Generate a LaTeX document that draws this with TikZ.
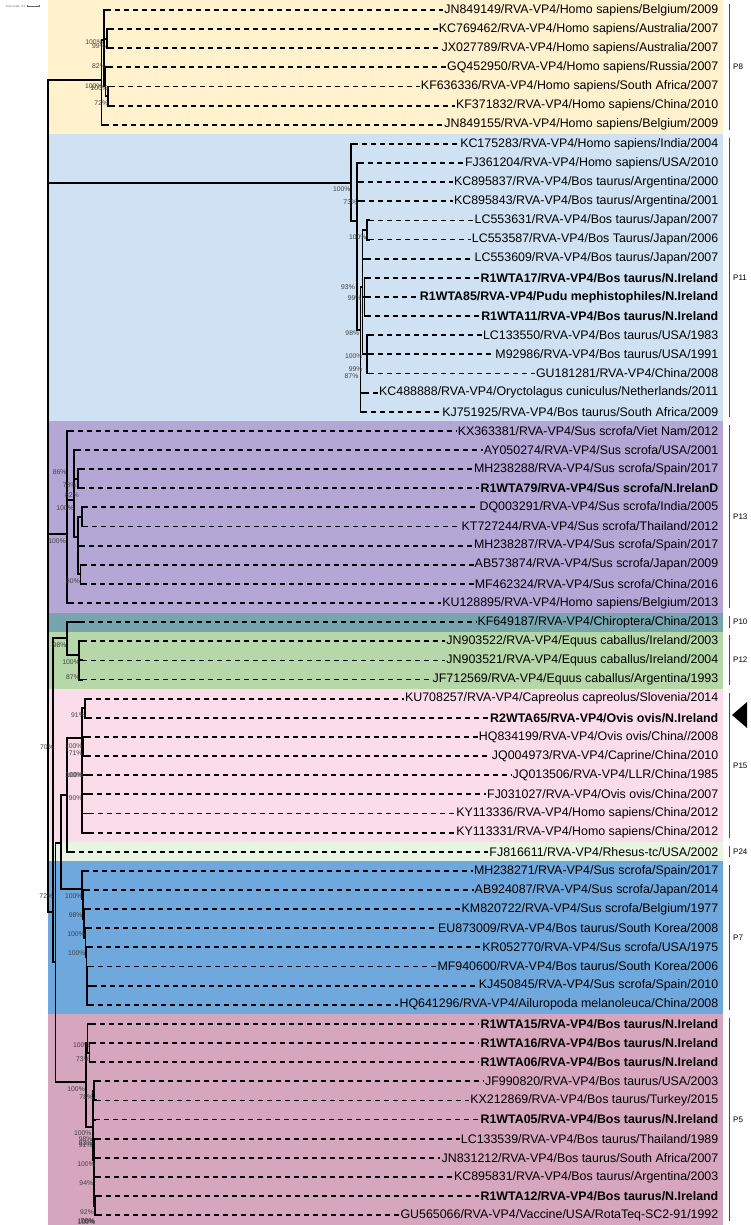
\documentclass[tikz,border=0pt]{standalone}
\usepackage{fontspec}
\setmainfont{Liberation Sans}
\usetikzlibrary{calc}
\definecolor{cPeight}{HTML}{FFF2CC}
\definecolor{cPeleven}{HTML}{CFE2F3}
\definecolor{cPthirteen}{HTML}{B4A7D6}
\definecolor{cPten}{HTML}{76A5AF}
\definecolor{cPtwelve}{HTML}{B6D7A8}
\definecolor{cPfifteen}{HTML}{FADDE9}
\definecolor{cPtwentyfour}{HTML}{E9F5E3}
\definecolor{cPseven}{HTML}{6FA8DC}
\definecolor{cPfive}{HTML}{D5A6BD}
\newcommand{\leafA}[6]{%
  \coordinate (t#1) at (#3,{10+19.13*#4});
  \node[#5] (l#1) at (719.5,{10+19.13*#4}) {#6};
  \draw[br] (#2) |- (t#1);
  \draw[dsh] (t#1) -- (l#1.west);
}
\newcommand{\edgeA}[2]{\draw[br] (#1) |- (#2);}
\newcommand{\bsl}[4]{\node[bs] (#1) at (#2,#3) {#4\%};}
\begin{document}
\begin{tikzpicture}[x=1pt,y=-1pt,
  br/.style={line width=1.9pt, line cap=rect, line join=miter},
  dsh/.style={line width=1.8pt, dash pattern=on 5pt off 4pt},
  lab/.style={anchor=east, inner sep=1pt, font=\fontsize{12.4}{14}\selectfont},
  labb/.style={anchor=east, inner sep=1pt, font=\fontsize{12.4}{14}\selectfont\bfseries},
  bs/.style={anchor=east, inner sep=0pt, font=\fontsize{6.8}{7}\selectfont, text=black!75},
  cl/.style={anchor=west, inner sep=0pt, font=\fontsize{8}{9}\selectfont},
  brk/.style={line width=0.8pt, black!70}]
\useasboundingbox (0,0) rectangle (750,1225);
% bands
\fill[cPeight] (48,0) rectangle (722.5,134.4);
\fill[cPeleven] (48,134.4) rectangle (722.5,421.3);
\fill[cPthirteen] (48,421.3) rectangle (722.5,612.6);
\fill[cPten] (48,612.6) rectangle (722.5,631.7);
\fill[cPtwelve] (48,631.7) rectangle (722.5,689.1);
\fill[cPfifteen] (48,689.1) rectangle (722.5,842.2);
\fill[cPtwentyfour] (48,842.2) rectangle (722.5,861.3);
\fill[cPseven] (48,861.3) rectangle (722.5,1014.3);
\fill[cPfive] (48,1014.3) rectangle (722.5,1225);
% tree scale
\node[anchor=west, inner sep=0pt, font=\fontsize{3}{3}\selectfont, text=black!60] (ts) at (5.5,6) {Tree scale: 0.1};
\coordinate (sa) at (27,6); \coordinate (sb) at (39,6);
\draw[black!60, line width=0.4pt] (sa) -- (sb);
\draw[black!60, line width=0.4pt] (sa) ++(0,-1.2) -- ++(0,2.4);
\draw[black!60, line width=0.4pt] (sb) ++(0,-1.2) -- ++(0,2.4);
% internal nodes
\coordinate (R) at (48.3,500);
\coordinate (P8r) at (101.5,80);
\coordinate (B) at (104,40);
\coordinate (D) at (107,38.7);
\coordinate (E) at (105.5,86);
\coordinate (F) at (108,96);
\coordinate (P11r) at (350.7,183);
\coordinate (Q) at (357,220.7);
\coordinate (Q2) at (360.5,330);
\coordinate (Q3) at (362.5,287);
\coordinate (L1) at (366.7,229.9);
\coordinate (L2) at (364.5,297);
\coordinate (L3) at (367,354);
\coordinate (P13r) at (66.7,534);
\coordinate (U) at (74,500);
\coordinate (V) at (78,478.7);
\coordinate (W) at (78,537);
\coordinate (X) at (81.7,517);
\coordinate (Y) at (80.5,574.3);
\coordinate (S) at (53.3,912);
\coordinate (PQ) at (66.7,638);
\coordinate (P12r) at (79.3,655);
\coordinate (S2) at (55.5,962);
\coordinate (T) at (60.7,843);
\coordinate (PR) at (66.7,795);
\coordinate (P15r) at (82,738);
\coordinate (Z) at (85,708.2);
\coordinate (H) at (83.5,746.5);
\coordinate (P7r) at (81.7,889);
\coordinate (a1) at (83,899.5);
\coordinate (a2) at (84.3,918.7);
\coordinate (a3) at (85.5,937.8);
\coordinate (a4) at (86.5,957);
\coordinate (a5) at (87.3,985.6);
\coordinate (P5r) at (86,1082);
\coordinate (C1) at (87.5,1043);
\coordinate (D1) at (89.5,1052.6);
\coordinate (C2) at (92.7,1127);
\coordinate (E1) at (94,1090.8);
\coordinate (E2) at (94,1160);
\coordinate (E3) at (95,1205.6);
% internal edges
\edgeA{R}{P8r} \edgeA{R}{P11r} \edgeA{R}{P13r} \edgeA{R}{S}
\edgeA{P8r}{B} \edgeA{B}{D} \edgeA{B}{E} \edgeA{E}{F}
\edgeA{P11r}{Q} \edgeA{Q}{Q2} \edgeA{Q2}{Q3} \edgeA{Q3}{L1} \edgeA{Q3}{L2} \edgeA{Q3}{L3}
\edgeA{P13r}{U} \edgeA{U}{V} \edgeA{U}{W} \edgeA{W}{X} \edgeA{W}{Y}
\edgeA{S}{PQ} \edgeA{PQ}{P12r} \edgeA{S}{S2} \edgeA{S2}{T} \edgeA{T}{PR} \edgeA{PR}{P15r}
\edgeA{P15r}{Z} \edgeA{P15r}{H}
\edgeA{T}{P7r} \edgeA{P7r}{a1} \edgeA{a1}{a2} \edgeA{a2}{a3} \edgeA{a3}{a4} \edgeA{a4}{a5}
\edgeA{S2}{P5r} \edgeA{P5r}{C1} \edgeA{C1}{D1} \edgeA{P5r}{C2} \edgeA{C2}{E1} \edgeA{C2}{E2} \edgeA{E2}{E3}
% leaves P8
\leafA{0}{B}{106}{0}{lab}{JN849149/RVA-VP4/Homo sapiens/Belgium/2009}
\leafA{1}{D}{109}{1}{lab}{KC769462/RVA-VP4/Homo sapiens/Australia/2007}
\leafA{2}{D}{109}{2}{lab}{JX027789/RVA-VP4/Homo sapiens/Australia/2007}
\leafA{3}{E}{108}{3}{lab}{GQ452950/RVA-VP4/Homo sapiens/Russia/2007}
\leafA{4}{F}{110}{4}{lab}{KF636336/RVA-VP4/Homo sapiens/South Africa/2007}
\leafA{5}{F}{110}{5}{lab}{KF371832/RVA-VP4/Homo sapiens/China/2010}
\leafA{6}{P8r}{104}{6}{lab}{JN849155/RVA-VP4/Homo sapiens/Belgium/2009}
% P11
\leafA{7}{P11r}{353}{7}{lab}{KC175283/RVA-VP4/Homo sapiens/India/2004}
\leafA{8}{Q}{359}{8}{lab}{FJ361204/RVA-VP4/Homo sapiens/USA/2010}
\leafA{9}{Q}{359}{9}{lab}{KC895837/RVA-VP4/Bos taurus/Argentina/2000}
\leafA{10}{Q}{360}{10}{lab}{KC895843/RVA-VP4/Bos taurus/Argentina/2001}
\leafA{11}{L1}{369}{11}{lab}{LC553631/RVA-VP4/Bos taurus/Japan/2007}
\leafA{12}{L1}{369}{12}{lab}{LC553587/RVA-VP4/Bos Taurus/Japan/2006}
\leafA{13}{Q3}{366}{13}{lab}{LC553609/RVA-VP4/Bos taurus/Japan/2007}
\leafA{14}{L2}{366}{14}{labb}{R1WTA17/RVA-VP4/Bos taurus/N.Ireland}
\leafA{15}{L2}{366}{15}{labb}{R1WTA85/RVA-VP4/Pudu mephistophiles/N.Ireland}
\leafA{16}{L2}{366}{16}{labb}{R1WTA11/RVA-VP4/Bos taurus/N.Ireland}
\leafA{17}{L3}{369}{17}{lab}{LC133550/RVA-VP4/Bos taurus/USA/1983}
\leafA{18}{L3}{369}{18}{lab}{M92986/RVA-VP4/Bos taurus/USA/1991}
\leafA{19}{L3}{369}{19}{lab}{GU181281/RVA-VP4/China/2008}
\leafA{20}{Q2}{364}{20}{lab}{KC488888/RVA-VP4/Oryctolagus cuniculus/Netherlands/2011}
\leafA{21}{Q2}{362}{21}{lab}{KJ751925/RVA-VP4/Bos taurus/South Africa/2009}
% P13
\leafA{22}{P13r}{69}{22}{lab}{KX363381/RVA-VP4/Sus scrofa/Viet Nam/2012}
\leafA{23}{U}{76}{23}{lab}{AY050274/RVA-VP4/Sus scrofa/USA/2001}
\leafA{24}{V}{80}{24}{lab}{MH238288/RVA-VP4/Sus scrofa/Spain/2017}
\leafA{25}{V}{80}{25}{labb}{R1WTA79/RVA-VP4/Sus scrofa/N.IrelanD}
\leafA{26}{X}{83}{26}{lab}{DQ003291/RVA-VP4/Sus scrofa/India/2005}
\leafA{27}{X}{83}{27}{lab}{KT727244/RVA-VP4/Sus scrofa/Thailand/2012}
\leafA{28}{W}{80}{28}{lab}{MH238287/RVA-VP4/Sus scrofa/Spain/2017}
\leafA{29}{Y}{82}{29}{lab}{AB573874/RVA-VP4/Sus scrofa/Japan/2009}
\leafA{30}{Y}{82}{30}{lab}{MF462324/RVA-VP4/Sus scrofa/China/2016}
\leafA{31}{P13r}{69}{31}{lab}{KU128895/RVA-VP4/Homo sapiens/Belgium/2013}
% P10, P12
\leafA{32}{PQ}{80}{32}{lab}{KF649187/RVA-VP4/Chiroptera/China/2013}
\leafA{33}{P12r}{82}{33}{lab}{JN903522/RVA-VP4/Equus caballus/Ireland/2003}
\leafA{34}{P12r}{82}{34}{lab}{JN903521/RVA-VP4/Equus caballus/Ireland/2004}
\leafA{35}{P12r}{82}{35}{lab}{JF712569/RVA-VP4/Equus caballus/Argentina/1993}
% P15
\leafA{36}{Z}{87}{36}{lab}{KU708257/RVA-VP4/Capreolus capreolus/Slovenia/2014}
\leafA{37}{Z}{87}{37}{labb}{R2WTA65/RVA-VP4/Ovis ovis/N.Ireland}
\leafA{38}{H}{86}{38}{lab}{HQ834199/RVA-VP4/Ovis ovis/China//2008}
\leafA{39}{H}{86}{39}{lab}{JQ004973/RVA-VP4/Caprine/China/2010}
\leafA{40}{P15r}{88}{40}{lab}{JQ013506/RVA-VP4/LLR/China/1985}
\leafA{41}{P15r}{88}{41}{lab}{FJ031027/RVA-VP4/Ovis ovis/China/2007}
\leafA{42}{P15r}{89}{42}{lab}{KY113336/RVA-VP4/Homo sapiens/China/2012}
\leafA{43}{P15r}{89}{43}{lab}{KY113331/RVA-VP4/Homo sapiens/China/2012}
% P24
\leafA{44}{PR}{70}{44}{lab}{FJ816611/RVA-VP4/Rhesus-tc/USA/2002}
% P7
\leafA{45}{P7r}{84}{45}{lab}{MH238271/RVA-VP4/Sus scrofa/Spain/2017}
\leafA{46}{a1}{85}{46}{lab}{AB924087/RVA-VP4/Sus scrofa/Japan/2014}
\leafA{47}{a2}{86}{47}{lab}{KM820722/RVA-VP4/Sus scrofa/Belgium/1977}
\leafA{48}{a3}{87}{48}{lab}{EU873009/RVA-VP4/Bos taurus/South Korea/2008}
\leafA{49}{a4}{88}{49}{lab}{KR052770/RVA-VP4/Sus scrofa/USA/1975}
\leafA{50}{a5}{89}{50}{lab}{MF940600/RVA-VP4/Bos taurus/South Korea/2006}
\leafA{51}{a5}{92}{51}{lab}{KJ450845/RVA-VP4/Sus scrofa/Spain/2010}
\leafA{52}{a5}{89}{52}{lab}{HQ641296/RVA-VP4/Ailuropoda melanoleuca/China/2008}
% P5
\leafA{53}{C1}{91}{53}{labb}{R1WTA15/RVA-VP4/Bos taurus/N.Ireland}
\leafA{54}{D1}{91}{54}{labb}{R1WTA16/RVA-VP4/Bos taurus/N.Ireland}
\leafA{55}{D1}{91}{55}{labb}{R1WTA06/RVA-VP4/Bos taurus/N.Ireland}
\leafA{56}{E1}{96}{56}{lab}{JF990820/RVA-VP4/Bos taurus/USA/2003}
\leafA{57}{E1}{96}{57}{lab}{KX212869/RVA-VP4/Bos taurus/Turkey/2015}
\leafA{58}{C2}{95}{58}{labb}{R1WTA05/RVA-VP4/Bos taurus/N.Ireland}
\leafA{59}{E2}{96}{59}{lab}{LC133539/RVA-VP4/Bos taurus/Thailand/1989}
\leafA{60}{E2}{96}{60}{lab}{JN831212/RVA-VP4/Bos taurus/South Africa/2007}
\leafA{61}{E2}{96}{61}{lab}{KC895831/RVA-VP4/Bos taurus/Argentina/2003}
\leafA{62}{E3}{97}{62}{labb}{R1WTA12/RVA-VP4/Bos taurus/N.Ireland}
\leafA{63}{E3}{97}{63}{lab}{GU565066/RVA-VP4/Vaccine/USA/RotaTeq-SC2-91/1992}
% bootstrap values
\bsl{b1}{103}{41.7}{100} \bsl{b2}{106}{45.7}{99} \bsl{b3}{106}{66}{82}
\bsl{b4}{102.7}{86}{100} \bsl{b5}{108.3}{88.3}{100} \bsl{b6}{108.3}{102.7}{72}
\bsl{b7}{350.7}{189.3}{100} \bsl{b8}{357.3}{201.7}{73} \bsl{b9}{366.7}{237.3}{100}
\bsl{b10}{355}{286.7}{93} \bsl{b11}{361.7}{297.7}{99} \bsl{b12}{359.3}{332.7}{98}
\bsl{b13}{362.7}{355.7}{100} \bsl{b14}{362.7}{369.3}{99} \bsl{b15}{358.5}{376}{87}
\bsl{b16}{66.7}{472.3}{86} \bsl{b17}{76.7}{485}{78} \bsl{b18}{79}{495}{82}
\bsl{b19}{74}{507.7}{100} \bsl{b20}{66}{541}{100} \bsl{b21}{80}{580.7}{80}
\bsl{b22}{66.7}{645}{98} \bsl{b23}{80}{661.7}{100} \bsl{b24}{80}{676.7}{87}
\bsl{b25}{85}{715}{91} \bsl{b26}{82.7}{745.7}{100} \bsl{b27}{82.7}{752.7}{71}
\bsl{b28}{82.7}{775}{100} \bsl{b29}{83.7}{775.5}{100} \bsl{b30}{54}{746.7}{70}
\bsl{b31}{82.7}{798.3}{90}
\bsl{b32}{53.3}{896}{72} \bsl{b33}{82.7}{896}{100} \bsl{b34}{82.7}{915}{98}
\bsl{b35}{85}{934}{100} \bsl{b36}{85.7}{952.7}{100}
\bsl{b37}{90.7}{1045}{100} \bsl{b38}{90}{1059}{73} \bsl{b39}{85}{1089.3}{100}
\bsl{b40}{93.3}{1096.7}{78} \bsl{b41}{91.7}{1132.7}{100} \bsl{b42}{92.7}{1139.3}{98}
\bsl{b43}{92.7}{1143.3}{93} \bsl{b44}{92.7}{1145}{91} \bsl{b45}{95}{1164.3}{100}
\bsl{b46}{93.3}{1183.3}{94} \bsl{b47}{94}{1211.7}{92} \bsl{b48}{95}{1221.5}{100}
\bsl{b49}{95.5}{1221.8}{100} \bsl{b50}{94.5}{1221.2}{76}
% clade brackets and labels
\foreach \nm/\ya/\yb in {P8/4/130, P11/138/417, P13/425/608, P10/616/628, P12/635/685, P15/693/838, P24/846/857, P7/865/1010, P5/1018/1221}{
  \coordinate (k\nm a) at (729,\ya);
  \coordinate (k\nm b) at (729,\yb);
  \draw[brk] (k\nm a) -- (k\nm b);
  \node[cl] (c\nm) at ($(k\nm a)!0.5!(k\nm b)+(4,0)$) {\nm};
}
% arrow marker
\coordinate (m1) at (732,715); \coordinate (m2) at (747,702); \coordinate (m3) at (747,728);
\fill (m1) -- (m2) -- (m3) -- cycle;
\end{tikzpicture}
\end{document}
